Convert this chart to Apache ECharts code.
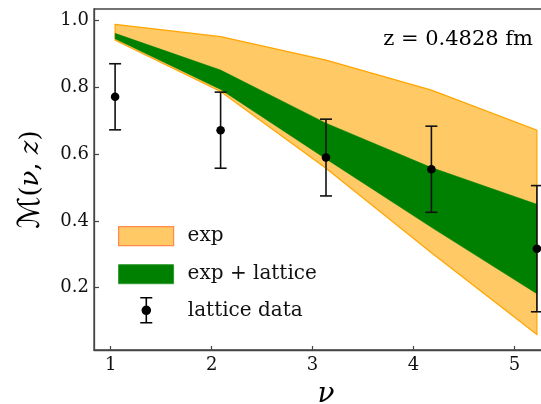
<!DOCTYPE html>
<html>
<head>
<meta charset="utf-8">
<script src="https://cdn.jsdelivr.net/npm/echarts@6/dist/echarts.min.js"></script>
<style>html,body{margin:0;padding:0;background:#fff;}#c{width:541px;height:404px;}</style>
</head>
<body>
<div id="c"></div>
<script>
// ---- data ----
var nu = [1.044, 2.089, 3.133, 4.177, 5.222];
var latticeM = [0.772, 0.672, 0.590, 0.555, 0.317];
var latticeErr = [0.099, 0.114, 0.115, 0.129, 0.189];
var expUpper = [0.989, 0.952, 0.882, 0.792, 0.672];
var expLower = [0.942, 0.788, 0.558, 0.305, 0.060];
var combUpper = [0.962, 0.852, 0.693, 0.560, 0.450];
var combLower = [0.946, 0.794, 0.586, 0.381, 0.182];
var xTicks = [1, 2, 3, 4, 5];
var yTicks = [0.2, 0.4, 0.6, 0.8, 1.0];
var seriesNames = ['exp', 'exp + lattice', 'lattice data'];
var annotation = 'z = 0.4828 fm';

var SERIF = "'DejaVu Serif', 'DejaVu Sans', serif";
var ORANGE_FILL = '#FFC966', ORANGE_EDGE = '#FFA500', GREEN = '#008000';

function bandData(up, lo) {
  return nu.map(function (x, i) { return [x, up[i], lo[i]]; });
}
function bandRender(fill, stroke, lw) {
  return function (params, api) {
    if (params.dataIndex !== 0) return null;
    var top = [], bot = [];
    for (var i = 0; i < nu.length; i++) {
      top.push(api.coord([api.value(0, i), api.value(1, i)]));
      bot.push(api.coord([api.value(0, i), api.value(2, i)]));
    }
    var pts = top.concat(bot.reverse());
    return {
      type: 'polygon',
      shape: { points: pts },
      style: { fill: fill, stroke: stroke, lineWidth: lw }
    };
  };
}

var errData = nu.map(function (x, i) { return [x, latticeM[i], latticeM[i] - latticeErr[i], latticeM[i] + latticeErr[i]]; });

var chart = echarts.init(document.getElementById('c'), null, { renderer: 'canvas' });
chart.setOption({
  animation: false,
  backgroundColor: '#fff',
  grid: { left: 94, top: 9, width: 464, height: 341, outerBoundsMode: 'none', containLabel: false, show: true, borderColor: '#444', borderWidth: 1.3, backgroundColor: 'transparent' },
  xAxis: {
    type: 'value', min: 0.835, max: 5.431,
    name: 'ν', nameLocation: 'middle', nameGap: 31,
    nameTextStyle: { fontFamily: SERIF, fontSize: 28, fontStyle: 'italic', color: '#000' },
    axisLine: { show: true, lineStyle: { color: '#444', width: 1.3 } },
    axisTick: { show: true, inside: true, length: 4, customValues: xTicks, lineStyle: { color: '#444', width: 1.2 } },
    axisLabel: { customValues: xTicks, margin: 6, fontFamily: SERIF, fontSize: 18, color: '#111', formatter: function (v) { return String(Math.round(v)); } },
    splitLine: { show: false }
  },
  yAxis: {
    type: 'value', min: 0.0135, max: 1.035,
    name: '{m|ℳ}{p|(}{i|ν}{p|, }{i|z}{p|)}', nameLocation: 'middle', nameGap: 48, nameRotate: 90,
    nameTextStyle: {
      color: '#000',
      rich: {
        m: { fontFamily: SERIF, fontSize: 30, color: '#000' },
        p: { fontFamily: SERIF, fontSize: 26, color: '#000' },
        i: { fontFamily: SERIF, fontSize: 26, fontStyle: 'italic', color: '#000' }
      }
    },
    axisLine: { show: true, lineStyle: { color: '#444', width: 1.3 } },
    axisTick: { show: true, inside: true, length: 5, customValues: yTicks, lineStyle: { color: '#444', width: 1.2 } },
    axisLabel: { customValues: yTicks, margin: 5, fontFamily: SERIF, fontSize: 18, color: '#111', formatter: function (v) { return v.toFixed(1); } },
    splitLine: { show: false }
  },
  legend: [{
    orient: 'vertical', left: 118, top: 226, padding: 0, itemWidth: 55, itemHeight: 19, itemGap: 18,
    textStyle: { fontFamily: SERIF, fontSize: 20, color: '#111', padding: [0, 0, 0, 9] },
    data: [
      { name: seriesNames[0], icon: 'rect', itemStyle: { color: ORANGE_FILL, borderColor: '#FF8A4A', borderWidth: 1.2 } },
      { name: seriesNames[1], icon: 'rect', itemStyle: { color: GREEN, borderColor: '#2E9A2E', borderWidth: 1 } }
    ],
    selectedMode: false
  }, {
    orient: 'vertical', left: 118, top: 297, padding: 0, itemWidth: 55, itemHeight: 27,
    textStyle: { fontFamily: SERIF, fontSize: 20, color: '#111', padding: [0, 0, 0, 9] },
    data: [
      { name: seriesNames[2], icon: 'path://M0,13.5L0,13.5M55,13.5L55,13.5M21.5,1H33.5M27.5,1V26M21.5,26H33.5M31.5,13.5A4,4 0 1 1 23.5,13.5A4,4 0 1 1 31.5,13.5Z', itemStyle: { color: '#000', borderColor: '#000', borderWidth: 1.6, borderCap: 'butt' } }
    ],
    selectedMode: false
  }],
  graphic: [{
    type: 'text', right: 8, top: 29,
    style: { text: annotation, fontFamily: SERIF, fontSize: 21, fill: '#000' }
  }],
  series: [{
    name: seriesNames[0], type: 'custom', itemStyle: { color: ORANGE_FILL },
    data: bandData(expUpper, expLower), encode: { x: 0, y: [1, 2] },
    renderItem: bandRender(ORANGE_FILL, ORANGE_EDGE, 1.2), z: 1
  }, {
    name: seriesNames[1], type: 'custom', itemStyle: { color: GREEN },
    data: bandData(combUpper, combLower), encode: { x: 0, y: [1, 2] },
    renderItem: bandRender(GREEN, GREEN, 0.5), z: 2
  }, {
    name: seriesNames[2], type: 'custom', itemStyle: { color: '#000' },
    data: errData, encode: { x: 0, y: [1, 2, 3] }, z: 3,
    renderItem: function (params, api) {
      var x = api.value(0);
      var c = api.coord([x, api.value(1)]);
      var lo = api.coord([x, api.value(2)]);
      var hi = api.coord([x, api.value(3)]);
      var hw = 6;
      var st = { stroke: '#111', lineWidth: 1.6 };
      return {
        type: 'group', children: [
          { type: 'line', shape: { x1: lo[0], y1: lo[1], x2: hi[0], y2: hi[1] }, style: st },
          { type: 'line', shape: { x1: lo[0] - hw, y1: lo[1], x2: lo[0] + hw, y2: lo[1] }, style: st },
          { type: 'line', shape: { x1: hi[0] - hw, y1: hi[1], x2: hi[0] + hw, y2: hi[1] }, style: st },
          { type: 'circle', shape: { cx: c[0], cy: c[1], r: 4.3 }, style: { fill: '#000' } }
        ]
      };
    }
  }]
});
</script>
</body>
</html>
